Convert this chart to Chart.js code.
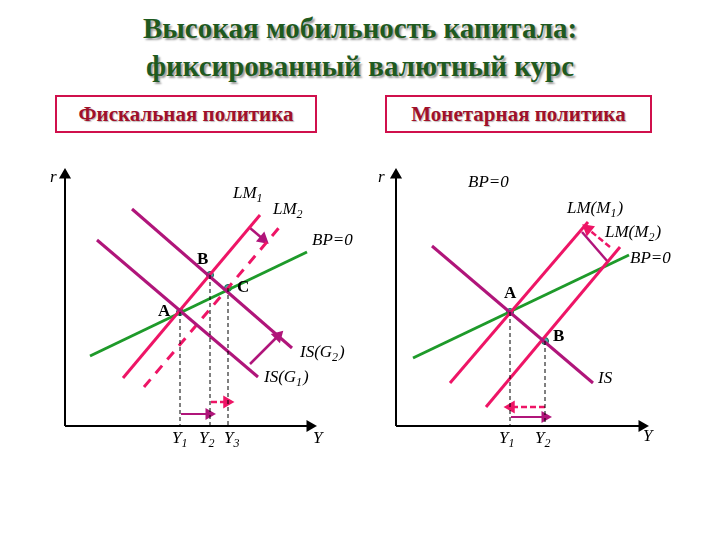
<!DOCTYPE html>
<html><head><meta charset="utf-8">
<script src="https://cdn.jsdelivr.net/npm/chart.js@4/dist/chart.umd.min.js"></script>
<style>
body{margin:0;background:#fff;width:720px;height:540px;overflow:hidden;font-family:"Liberation Serif",serif}
#wrap{position:absolute;left:0;top:0;width:720px;height:540px}
.title{position:absolute;left:0;width:720px;text-align:center;font-weight:bold;font-size:29px;color:#1f5a1f;text-shadow:2px 2px 2px #9a9a9a}
.box{position:absolute;top:95px;height:34px;border:2px solid #d0104c;font-weight:bold;font-size:21px;color:#a0102a;text-align:center;line-height:34px;text-shadow:1px 1px 1px #bbb}
</style></head><body>
<div class="title" style="top:12px">Высокая мобильность капитала:</div>
<div class="title" style="top:50px">фиксированный валютный курс</div>
<div class="box" style="left:55px;width:258px">Фискальная политика</div>
<div class="box" style="left:385px;width:263px">Монетарная политика</div>
<div id="wrap"><canvas id="c" width="720" height="540"></canvas></div>
<script>
// ---------------- DATA (page coordinates of diagram curves) ----------------
const PINK = "#ee1566", PURPLE = "#b0157a", GREEN = "#1e9a2a", BLACK = "#000";

// left panel: fiscal policy
const axesL = [[65, 175], [65, 426], [310, 426]];
const isG1 = [[97, 240], [258, 377]];
const isG2 = [[132, 209], [292, 348]];
const lm1 = [[123, 378], [260, 215]];
const lm2 = [[144, 387], [283, 223]];
const bpL = [[90, 356], [307, 252]];
const pointsL = [[180, 312], [210, 275], [228, 288]];
const dropsL = [[[180, 312], [180, 426]], [[210, 275], [210, 426]], [[228, 288], [228, 426]]];
const shiftIS = [[250, 364], [278, 336]];
const shiftLM = [[250, 228], [263, 239]];
const arrY1Y2 = [[181, 414], [209, 414]];
const arrY2Y3 = [[211, 402], [227, 402]];

// right panel: monetary policy
const axesR = [[396, 175], [396, 426], [642, 426]];
const isR = [[432, 246], [593, 383]];
const lmM1 = [[450, 383], [588, 222]];
const lmM2 = [[486, 407], [620, 247]];
const bpR = [[413, 358], [629, 255]];
const pointsR = [[510, 312], [545, 341]];
const dropsR = [[[510, 312], [510, 426]], [[545, 341], [545, 426]]];
const arrBack = [[545, 407], [511, 407]];
const arrFwd = [[511, 417], [545, 417]];
const shiftM2 = [[582, 232], [608, 262]];
const shiftM1 = [[610, 247], [588, 229]];

// labels
const labels = [
  ["r", 50, 182, "i"], ["LM", 233, 198, "i", "1"], ["LM", 273, 214, "i", "2"],
  ["BP=0", 312, 245, "i"], ["B", 197, 264, "b"], ["C", 237, 292, "b"], ["A", 158, 316, "b"],
  ["IS(G", 300, 357, "i", "2", ")"], ["IS(G", 264, 382, "i", "1", ")"],
  ["Y", 172, 443, "i", "1"], ["Y", 199, 443, "i", "2"], ["Y", 224, 443, "i", "3"], ["Y", 313, 443, "i"],
  ["r", 378, 182, "i"], ["BP=0", 468, 187, "i"], ["LM(M", 567, 213, "i", "1", ")"],
  ["LM(M", 605, 237, "i", "2", ")"], ["BP=0", 630, 263, "i"], ["A", 504, 298, "b"], ["B", 553, 341, "b"],
  ["IS", 598, 383, "i"], ["Y", 499, 443, "i", "1"], ["Y", 535, 443, "i", "2"], ["Y", 643, 441, "i"]
];

// ---------------- DATASETS ----------------
const pts = (a) => a.map(([x, y]) => ({ x, y }));
function line(d, color, width, dash) {
  return { data: pts(d), showLine: true, borderColor: color, borderWidth: width,
    borderDash: dash || [], pointRadius: 0, fill: false, clip: false };
}
function arrow(d, color, width, dash) {
  const ds = line(d, color, width, dash);
  const [a, b] = d;
  const ang = Math.atan2(b[1] - a[1], b[0] - a[0]) * 180 / Math.PI + 90;
  ds.pointRadius = [0, 5];
  ds.pointStyle = "triangle";
  ds.pointRotation = ang;
  ds.pointBackgroundColor = color;
  ds.pointBorderColor = color;
  return ds;
}
function dots(d) {
  return { data: pts(d), showLine: false, pointRadius: 3.5, pointBackgroundColor: "#3fb8a8",
    pointBorderColor: "#1a5a50", pointBorderWidth: 1, clip: false };
}

const datasets = [
  arrow(axesL.slice(0, 2).reverse(), BLACK, 2), arrow(axesL.slice(1), BLACK, 2),
  arrow(axesR.slice(0, 2).reverse(), BLACK, 2), arrow(axesR.slice(1), BLACK, 2),
  ...dropsL.map((d) => line(d, BLACK, 1, [4, 3])),
  ...dropsR.map((d) => line(d, BLACK, 1, [4, 3])),
  line(isG1, PURPLE, 3), line(isG2, PURPLE, 3),
  line(lm1, PINK, 3), line(lm2, PINK, 3, [10, 8]), line(bpL, GREEN, 3),
  arrow(shiftIS, PURPLE, 2.5), arrow(shiftLM, PURPLE, 2.5),
  arrow(arrY1Y2, PURPLE, 2), arrow(arrY2Y3, PINK, 2.5, [6, 3]),
  line(isR, PURPLE, 3), line(lmM1, PINK, 3), line(lmM2, PINK, 3), line(bpR, GREEN, 3),
  arrow(arrBack, PINK, 2.5, [6, 3]), arrow(arrFwd, PURPLE, 2),
  line(shiftM2, PURPLE, 2.5), arrow(shiftM1, PINK, 2.5, [6, 3]),
  dots(pointsL), dots(pointsR)
];

// ---------------- LABEL PLUGIN ----------------
const labelPlugin = {
  id: "labels",
  afterDatasetsDraw(chart) {
    const { ctx, scales } = chart;
    ctx.save();
    ctx.fillStyle = "#000";
    ctx.textBaseline = "alphabetic";
    labels.forEach(([t, x, y, st, sub, tail]) => {
      let px = scales.x.getPixelForValue(x), py = scales.y.getPixelForValue(y);
      ctx.font = (st === "b" ? "bold 17px" : "italic 17px") + ' "Liberation Serif"';
      ctx.fillText(t, px, py);
      px += ctx.measureText(t).width;
      if (sub) {
        ctx.font = 'italic 12px "Liberation Serif"';
        ctx.fillText(sub, px, py + 4);
        px += ctx.measureText(sub).width + 1;
      }
      if (tail) {
        ctx.font = 'italic 17px "Liberation Serif"';
        ctx.fillText(tail, px, py);
      }
    });
    ctx.restore();
  }
};

// the chart area is inset a few pixels, so the scale range is chosen to map value = page pixel
const chart = new Chart(document.getElementById("c"), {
  type: "scatter",
  data: { datasets },
  options: {
    responsive: false, animation: false,
    layout: { padding: 0 },
    plugins: { legend: { display: false }, tooltip: { enabled: false } },
    scales: {
      x: { type: "linear", min: 0, max: 720, display: false },
      y: { type: "linear", min: 0, max: 540, reverse: true, display: false }
    }
  },
  plugins: [labelPlugin]
});
const area = chart.chartArea;
chart.options.scales.x.min = area.left;
chart.options.scales.x.max = area.right;
chart.options.scales.y.min = area.top;
chart.options.scales.y.max = area.bottom;
chart.update();
</script>
</body></html>
